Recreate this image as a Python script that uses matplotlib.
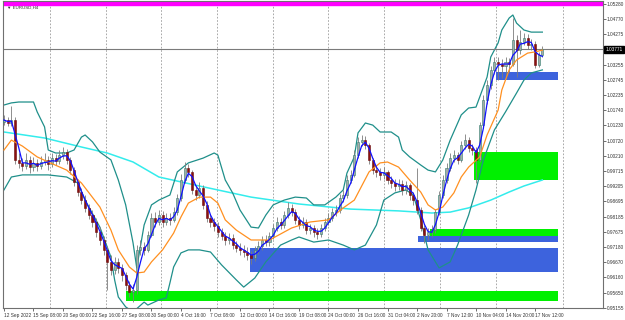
import numpy as np
import pandas as pd
import matplotlib
matplotlib.use("Agg")
import matplotlib.pyplot as plt
from matplotlib.patches import Rectangle
import matplotlib.transforms as mtransforms

# EURUSD H4 candles (half resolution), open = previous close
first_open = 1.0135
closes = [1.0141, 1.0131, 1.0141, 1.0008, 0.9998, 0.9988, 1.0008, 0.9984, 0.9998, 0.9988,
          1.0001, 1.0008, 0.9994, 1.0014, 1.0004, 1.0024, 1.0034, 1.0008, 0.9974, 0.9934,
          0.9901, 0.9874, 0.9848, 0.9824, 0.9801, 0.9768, 0.9741, 0.9708, 0.9668, 0.9641,
          0.9668, 0.9648, 0.9624, 0.9591, 0.9568, 0.9574, 0.9708, 0.9718, 0.9708, 0.9758,
          0.9814, 0.9801, 0.9824, 0.9801, 0.9814, 0.9808, 0.9834, 0.9881, 0.9941, 0.9981,
          0.9968, 0.9908, 0.9891, 0.9914, 0.9858, 0.9814, 0.9801, 0.9788, 0.9768, 0.9754,
          0.9741, 0.9748, 0.9724, 0.9714, 0.9708, 0.9701, 0.9691, 0.9681, 0.9708, 0.9721,
          0.9741, 0.9734, 0.9754, 0.9781, 0.9801, 0.9791, 0.9824, 0.9848, 0.9834, 0.9808,
          0.9791, 0.9801, 0.9774, 0.9781, 0.9768, 0.9761, 0.9781, 0.9801, 0.9814, 0.9834,
          0.9841, 0.9881, 0.9891, 0.9941, 0.9958, 1.0024, 1.0068, 1.0074, 1.0058, 1.0008,
          0.9974, 0.9968, 0.9958, 0.9968, 0.9941, 0.9931, 0.9921, 0.9928, 0.9908, 0.9924,
          0.9891, 0.9874, 0.9841, 0.9781, 0.9758, 0.9768, 0.9774, 0.9834, 0.9891, 0.9941,
          0.9981, 1.0014, 1.0024, 1.0008, 1.0058, 1.0074, 1.0048, 1.0041, 1.0008, 1.0124,
          1.0208, 1.0258, 1.0308, 1.0334, 1.0328, 1.0321, 1.0334, 1.0328, 1.0408, 1.0374,
          1.0401, 1.0414, 1.0391, 1.0394, 1.0324, 1.0358, 1.0377]
highs = [1.0158, 1.0152, 1.0188, 1.0150, 1.0030, 1.0015, 1.0030, 1.0020, 1.0018, 1.0012,
         1.0022, 1.0030, 1.0020, 1.0032, 1.0028, 1.0040, 1.0052, 1.0045, 1.0018, 0.9985,
         0.9945, 0.9915, 0.9890, 0.9862, 0.9840, 0.9815, 0.9785, 0.9755, 0.9720, 0.9690,
         0.9685, 0.9680, 0.9660, 0.9635, 0.9605, 0.9595, 0.9725, 0.9740, 0.9735, 0.9770,
         0.9830, 0.9835, 0.9840, 0.9838, 0.9832, 0.9830, 0.9850, 0.9895, 0.9960, 1.0001,
         0.9995, 0.9975, 0.9925, 0.9935, 0.9925, 0.9870, 0.9828, 0.9815, 0.9800, 0.9782,
         0.9768, 0.9765, 0.9760, 0.9738, 0.9730, 0.9725, 0.9718, 0.9705, 0.9722, 0.9738,
         0.9755, 0.9758, 0.9768, 0.9795, 0.9818, 0.9815, 0.9838, 0.9866, 0.9862, 0.9845,
         0.9822, 0.9818, 0.9810, 0.9795, 0.9792, 0.9780, 0.9795, 0.9815, 0.9830, 0.9848,
         0.9858, 0.9895, 0.9908, 0.9958, 0.9975, 1.0040, 1.0085, 1.0092, 1.0088, 1.0065,
         1.0015, 0.9990, 0.9982, 0.9985, 0.9975, 0.9955, 0.9945, 0.9945, 0.9940, 0.9938,
         0.9932, 0.9902, 0.9981, 0.9850, 0.9790, 0.9782, 0.9792, 0.9845, 0.9905, 0.9958,
         0.9998, 1.0030, 1.0040, 1.0035, 1.0072, 1.0095, 1.0085, 1.0062, 1.0050, 1.0135,
         1.0225, 1.0275, 1.0322, 1.0352, 1.0350, 1.0345, 1.0350, 1.0348, 1.0481, 1.0425,
         1.0440, 1.0432, 1.0428, 1.0412, 1.0405, 1.0368, 1.0388]
lows = [1.0125, 1.0120, 1.0122, 0.9995, 0.9980, 0.9970, 0.9978, 0.9965, 0.9972, 0.9970,
        0.9978, 0.9990, 0.9975, 0.9985, 0.9990, 0.9995, 1.0010, 0.9995, 0.9960, 0.9920,
        0.9888, 0.9860, 0.9835, 0.9810, 0.9785, 0.9752, 0.9725, 0.9690, 0.9575, 0.9625,
        0.9628, 0.9632, 0.9605, 0.9575, 0.9550, 0.9535, 0.9560, 0.9690, 0.9690, 0.9700,
        0.9750, 0.9785, 0.9790, 0.9785, 0.9790, 0.9792, 0.9800, 0.9825, 0.9870, 0.9930,
        0.9950, 0.9895, 0.9875, 0.9880, 0.9845, 0.9800, 0.9785, 0.9772, 0.9752, 0.9740,
        0.9725, 0.9728, 0.9710, 0.9700, 0.9692, 0.9685, 0.9675, 0.9662, 0.9670, 0.9695,
        0.9708, 0.9720, 0.9722, 0.9745, 0.9770, 0.9778, 0.9782, 0.9815, 0.9820, 0.9795,
        0.9778, 0.9780, 0.9760, 0.9762, 0.9752, 0.9745, 0.9750, 0.9772, 0.9790, 0.9805,
        0.9822, 0.9830, 0.9868, 0.9880, 0.9930, 0.9950, 1.0015, 1.0055, 1.0045, 0.9995,
        0.9960, 0.9952, 0.9942, 0.9945, 0.9928, 0.9915, 0.9905, 0.9908, 0.9892, 0.9895,
        0.9875, 0.9858, 0.9828, 0.9770, 0.9730, 0.9742, 0.9752, 0.9765, 0.9825, 0.9880,
        0.9930, 0.9970, 1.0002, 0.9995, 1.0000, 1.0045, 1.0035, 1.0025, 0.9931, 1.0000,
        1.0115, 1.0195, 1.0245, 1.0295, 1.0275, 1.0280, 1.0278, 1.0300, 1.0320, 1.0285,
        1.0360, 1.0390, 1.0378, 1.0375, 1.0315, 1.0318, 1.0350]

# indicator lines (bar index, price)
orange_bar = [0, 2, 5, 9, 12, 17, 21, 26, 29, 31, 34, 36, 38, 40, 43, 46, 48, 50, 53, 56,
              58, 60, 63, 67, 72, 78, 83, 88, 92, 95, 99, 102, 104, 107, 110, 113, 115, 117, 119, 122,
              124, 126, 129, 131, 134, 135, 137, 139, 142, 144, 146]
orange_val = [1.0041, 1.0074, 1.0054, 1.0018, 1.0001, 0.9974, 0.9931, 0.9851, 0.9774, 0.9708,
              0.9651, 0.9631, 0.9634, 0.9668, 0.9708, 0.9764, 0.9818, 0.9864, 0.9884, 0.9884,
              0.9864, 0.9808, 0.9774, 0.9741, 0.9741, 0.9781, 0.9801, 0.9808, 0.9848, 0.9874,
              0.9968, 0.9998, 1.0001, 0.9984, 0.9941, 0.9901, 0.9858, 0.9841, 0.9851, 0.9898,
              0.9951, 0.9984, 1.0018, 1.0091, 1.0174, 1.0241, 1.0308, 1.0341, 1.0364, 1.0368,
              1.0374]
cyan_bar = [0, 11, 21, 28, 35, 42, 53, 67, 80, 94, 107, 116, 121, 126, 132, 137, 141, 146]
cyan_val = [1.0101, 1.0081, 1.0051, 1.0031, 1.0001, 0.9951, 0.9921, 0.9884, 0.9861, 0.9844,
            0.9838, 0.9831, 0.9834, 0.9848, 0.9874, 0.9901, 0.9921, 0.9941]
bb_up_bar = [0, 2, 4, 8, 9, 11, 12, 14, 17, 19, 21, 22, 24, 26, 29, 31, 33, 35, 36, 38,
             40, 42, 45, 47, 50, 54, 57, 58, 60, 62, 64, 67, 69, 71, 73, 76, 79, 82, 84, 87,
             90, 92, 93, 95, 96, 98, 100, 102, 105, 107, 108, 110, 113, 115, 117, 119, 121, 124, 126, 128,
             131, 132, 134, 135, 137, 138, 139, 141, 143, 146]
bb_up_val = [1.0191, 1.0198, 1.0201, 1.0201, 1.0168, 1.0118, 1.0041, 1.0031, 1.0031, 1.0041,
             1.0084, 1.0091, 1.0068, 1.0034, 1.0008, 0.9941, 0.9858, 0.9731, 0.9648, 0.9791,
             0.9858, 0.9874, 0.9891, 0.9968, 0.9998, 1.0014, 1.0031, 1.0024, 0.9941, 0.9898,
             0.9841, 0.9784, 0.9781, 0.9824, 0.9858, 0.9874, 0.9884, 0.9881, 0.9858, 0.9858,
             0.9884, 0.9908, 0.9964, 1.0018, 1.0098, 1.0131, 1.0124, 1.0101, 1.0101, 1.0084,
             1.0041, 1.0018, 0.9991, 0.9974, 0.9968, 1.0008, 1.0074, 1.0158, 1.0181, 1.0184,
             1.0284, 1.0351, 1.0398, 1.0441, 1.0481, 1.0491, 1.0464, 1.0441, 1.0434, 1.0434]
bb_lo_bar = [0, 2, 5, 12, 17, 20, 22, 26, 29, 30, 31, 33, 35, 38, 39, 42, 44, 45, 46, 48,
             50, 53, 56, 59, 63, 65, 68, 71, 75, 78, 80, 84, 88, 92, 95, 98, 101, 103, 106, 109,
             111, 113, 115, 118, 121, 123, 126, 128, 130, 133, 136, 139, 141, 143, 146]
bb_lo_val = [0.9908, 0.9951, 0.9958, 0.9958, 0.9951, 0.9931, 0.9874, 0.9784, 0.9684, 0.9608,
             0.9551, 0.9518, 0.9501, 0.9534, 0.9524, 0.9541, 0.9548, 0.9598, 0.9651, 0.9698,
             0.9708, 0.9708, 0.9701, 0.9658, 0.9608, 0.9584, 0.9614, 0.9668, 0.9724, 0.9741,
             0.9751, 0.9734, 0.9741, 0.9724, 0.9708, 0.9724, 0.9791, 0.9874, 0.9898, 0.9908,
             0.9891, 0.9808, 0.9708, 0.9648, 0.9668, 0.9724, 0.9824, 0.9908, 1.0008, 1.0108,
             1.0168, 1.0231, 1.0274, 1.0298, 1.0308]

# zones: (start bar, end bar, low price, high price)
zones_blue = [(133.4, 150.2, 1.0274, 1.0301), (112.3, 150.2, 0.9734, 0.9754), (66.7, 150.2, 0.9634, 0.9714)]
zones_green = [(127.5, 150.2, 0.9941, 1.0034), (115.5, 150.2, 0.9754, 0.9778), (33.0, 150.2, 0.9538, 0.9571)]

price_ticks = [1.05280, 1.04770, 1.04275, 1.03255, 1.02745, 1.02235, 1.01740, 1.01230, 1.00720,
               1.00210, 0.99715, 0.99205, 0.98695, 0.98185, 0.97675, 0.97180, 0.96670, 0.96160,
               0.95650, 0.95155]
last_price = 1.03771
time_labels = ['12 Sep 2022', '15 Sep 08:00', '20 Sep 00:00', '22 Sep 16:00', '27 Sep 08:00',
               '30 Sep 00:00', '4 Oct 16:00', '7 Oct 08:00', '12 Oct 00:00', '14 Oct 16:00',
               '19 Oct 08:00', '24 Oct 00:00', '26 Oct 16:00', '31 Oct 04:00', '2 Nov 20:00',
               '7 Nov 12:00', '10 Nov 04:00', '14 Nov 20:00', '17 Nov 12:00']
bars_per_label = 8
week_grid = [12.5, 27.6, 42.7, 57.8, 72.9, 88.0, 103.1, 118.2, 133.3, 151.6]

closes = np.array(closes)
opens = np.concatenate([[first_open], closes[:-1]])
highs = np.array(highs)
lows = np.array(lows)
idx = np.arange(len(closes))

plt.rcParams['font.family'] = ['Liberation Sans', 'DejaVu Sans']
fs = 3.4
fig = plt.figure(figsize=(6.25, 3.2), dpi=100)
fig.patch.set_facecolor('white')
ax = fig.add_axes([3 / 625, 12 / 320, 600 / 625, 307 / 320])
ax.set_xlim(-0.27, 162.44)
ax.set_ylim(0.95143, 1.05377)

# zones (drawn as background)
for b0, b1, lo, hi in zones_blue:
    ax.add_patch(Rectangle((b0, lo), b1 - b0, hi - lo, facecolor='#3d63dd', edgecolor='none', zorder=1))
for b0, b1, lo, hi in zones_green:
    ax.add_patch(Rectangle((b0, lo), b1 - b0, hi - lo, facecolor='#00f000', edgecolor='none', zorder=1))
ax.axhspan(1.0525, 1.0545, color='#ff00ff', zorder=1)

# weekly separators
for g in week_grid:
    ax.axvline(g, color='#9a9a9a', lw=0.6, ls=(0, (2, 2)), zorder=0.5)

# candles
up = closes >= opens
ax.vlines(idx, lows, highs, color='#7c7c7c', lw=0.6, zorder=3)
body_lo = np.minimum(opens, closes)
body_h = np.abs(closes - opens)
body_h = np.where(body_h < 0.0002, 0.0002, body_h)
ax.bar(idx[up], body_h[up], bottom=body_lo[up], width=0.55, color='#a8a8a8',
       edgecolor='#2f7f6f', lw=0.4, zorder=4)
ax.bar(idx[~up], body_h[~up], bottom=body_lo[~up], width=0.55, color='#8b1010',
       edgecolor='#6a0c0c', lw=0.4, zorder=4)

# indicators
ax.plot(cyan_bar, cyan_val, color='#33ecec', lw=1.1, zorder=2)
ax.plot(bb_up_bar, bb_up_val, color='#1f8f8a', lw=0.9, zorder=2)
ax.plot(bb_lo_bar, bb_lo_val, color='#1f8f8a', lw=0.9, zorder=2)
ax.plot(orange_bar, orange_val, color='#ff9020', lw=0.9, zorder=5)
fast = pd.Series(closes).rolling(3, min_periods=1).mean()
ax.plot(idx, fast, color='#1010ff', lw=0.9, zorder=6)

# current price line
ax.axhline(last_price, color='#7a7a7a', lw=0.8, zorder=2)

# axes styling
for s in ['left', 'right', 'top', 'bottom']:
    ax.spines[s].set_color('#707070')
    ax.spines[s].set_linewidth(0.8)
ax.yaxis.tick_right()
ax.set_yticks(price_ticks)
ax.set_yticklabels(['%.5f' % p for p in price_ticks])
ax.set_xticks(idx[::bars_per_label][:len(time_labels)])
ax.set_xticklabels(time_labels)
ax.tick_params(axis='y', length=2, width=0.5, pad=0.8, labelsize=fs, colors='#333333')
ax.tick_params(axis='x', length=2, width=0.5, pad=1.5, labelsize=fs, colors='#333333')
for lab in ax.get_xticklabels():
    lab.set_horizontalalignment('left')

trans = mtransforms.blended_transform_factory(ax.transAxes, ax.transData)
ax.text(1.004, last_price, '%.5f' % last_price, transform=trans, fontsize=fs, color='white',
        va='center', ha='left', zorder=10,
        bbox=dict(boxstyle='square,pad=0.2', facecolor='black', edgecolor='black'), clip_on=False)
ax.text(0.006, 0.978, '\u25bc EURUSD,H4', transform=ax.transAxes, fontsize=3.2, color='#333333',
        va='center', ha='left', zorder=10)

fig.savefig('out.png', dpi=100, facecolor='white')
